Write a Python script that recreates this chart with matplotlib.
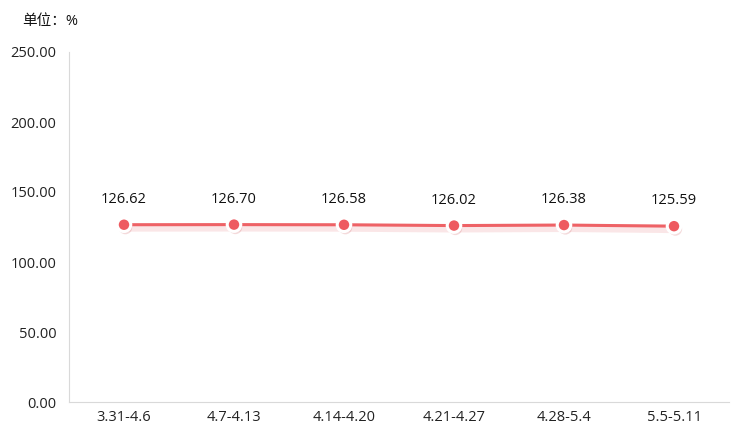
import matplotlib.pyplot as plt
import matplotlib.patheffects as pe

plt.rcParams['font.family'] = ['Open Sans', 'Noto Sans CJK SC', 'DejaVu Sans']

weeks = ["3.31-4.6", "4.7-4.13", "4.14-4.20", "4.21-4.27", "4.28-5.4", "5.5-5.11"]
values = [126.62, 126.70, 126.58, 126.02, 126.38, 125.59]
yticks = [0, 50, 100, 150, 200, 250]

fig = plt.figure(figsize=(7.52, 4.41), dpi=100)
ax = fig.add_axes([69 / 752, 39 / 441, 660 / 752, 350 / 441])

x = list(range(len(weeks)))
shadow = [pe.SimpleLineShadow(offset=(0, -2), shadow_color="#e8787c", alpha=0.18, linewidth=6), pe.Normal()]
ax.plot(x, values, color="#ee6266", linewidth=2.2, zorder=3, path_effects=shadow)
ax.scatter(x, values, s=95, color="#ee5a60", edgecolors="white", linewidths=2.2, zorder=4,
           path_effects=[pe.SimplePatchShadow(offset=(1, -2), shadow_rgbFace="#c84a4e", alpha=0.2), pe.Normal()])

for xi, v in zip(x, values):
    ax.annotate(f"{v:.2f}", (xi, v), xytext=(0, 13), textcoords="offset points",
                ha="center", va="bottom", fontsize=10.5, color="#111111")

ax.set_xlim(-0.5, len(weeks) - 0.5)
ax.set_ylim(0, 250)
ax.set_xticks(x)
ax.set_xticklabels(weeks, fontsize=10.5, color="#222222")
ax.set_yticks(yticks)
ax.set_yticklabels([f"{t:.2f}" for t in yticks], fontsize=10.5, color="#222222")
ax.tick_params(length=0, pad=9)
ax.tick_params(axis="x", pad=6)

for side in ["top", "right"]:
    ax.spines[side].set_visible(False)
ax.spines["left"].set_color("#d9d9d9")
ax.spines["bottom"].set_color("#d9d9d9")

fig.text(22 / 752, 1 - 21 / 441, "单位：%", fontsize=10.5, color="#111111", va="center")

fig.savefig("out.png", dpi=100, facecolor="white")
